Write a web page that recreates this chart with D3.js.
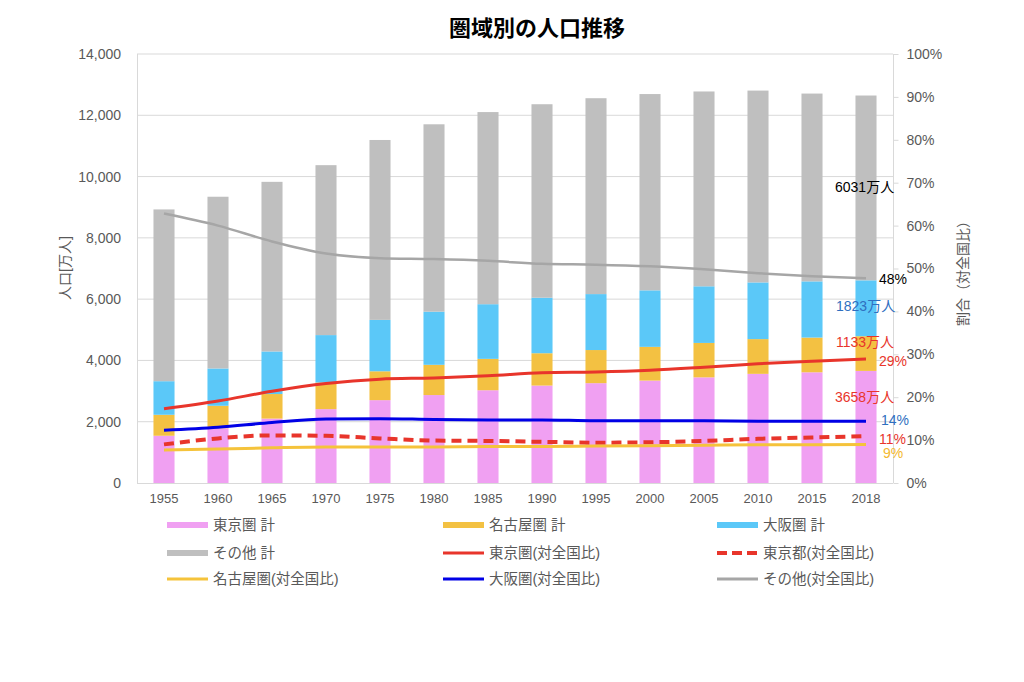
<!DOCTYPE html>
<html><head><meta charset="utf-8">
<script src="https://cdn.jsdelivr.net/npm/d3@7"></script>
<style>
body{margin:0;background:#fff;}
text{font-family:"Liberation Sans","Noto Sans CJK JP",sans-serif;}
</style></head>
<body><svg id="c" width="1024" height="682"></svg>
<script>
const years = ["1955","1960","1965","1970","1975","1980","1985","1990","1995","2000","2005","2010","2015","2018"];
// population (万人)
const tokyoArea  = [1542,1786,2102,2411,2704,2870,3027,3180,3258,3342,3448,3562,3613,3658];
const nagoyaArea = [684,734,801,869,942,987,1024,1055,1081,1101,1123,1134,1133,1133];
const osakaArea  = [1096,1218,1390,1547,1677,1735,1784,1812,1826,1844,1848,1850,1834,1823];
const otherArea  = [5606,5604,5535,5545,5871,6114,6270,6314,6392,6406,6358,6260,6129,6031];
// share of national total (%)
const tokyoAreaPct  = [17.3,19.1,21.4,23.2,24.2,24.5,25.0,25.7,25.9,26.3,27.0,27.8,28.4,28.9];
const tokyoToPct    = [9.0,10.4,11.1,11.0,10.4,9.9,9.8,9.6,9.4,9.5,9.8,10.3,10.6,10.9];
const nagoyaAreaPct = [7.7,7.9,8.2,8.4,8.4,8.4,8.5,8.5,8.6,8.7,8.8,8.9,8.9,9.0];
const osakaAreaPct  = [12.3,13.0,14.1,14.9,15.0,14.8,14.7,14.7,14.5,14.5,14.5,14.4,14.4,14.4];
const otherPct      = [62.8,60.0,56.3,53.5,52.4,52.2,51.8,51.1,50.9,50.5,49.8,48.9,48.2,47.7];
const leftTicks = [0,2000,4000,6000,8000,10000,12000,14000];
const rightTicks = [0,10,20,30,40,50,60,70,80,90,100];

const svg = d3.select("#c");
const L=137, R=893, T=54, B=483;
const x = d3.scaleBand().domain(years).range([L,R]).paddingInner(0.61).paddingOuter(0.305);
const y = d3.scaleLinear().domain([0,14000]).range([B,T]);
const y2 = d3.scaleLinear().domain([0,100]).range([B,T]);
const axisCol="#595959", gridCol="#d9d9d9";

// gridlines
svg.append("g").selectAll("line").data(leftTicks.slice(1)).join("line")
  .attr("x1",L).attr("x2",R).attr("y1",d=>y(d)).attr("y2",d=>y(d))
  .attr("stroke",gridCol).attr("stroke-width",1);

// stacked bars
const seriesKeys=["tokyo","nagoya","osaka","other"];
const colors={tokyo:"#f0a0f2",nagoya:"#f3c142",osaka:"#5bc8f8",other:"#bfbfbf"};
const rows = years.map((yr,i)=>({year:yr,tokyo:tokyoArea[i],nagoya:nagoyaArea[i],osaka:osakaArea[i],other:otherArea[i]}));
const stack = d3.stack().keys(seriesKeys)(rows);
svg.append("g").selectAll("g").data(stack).join("g").attr("fill",d=>colors[d.key])
  .selectAll("rect").data(d=>d).join("rect")
  .attr("x",d=>x(d.data.year)).attr("width",x.bandwidth())
  .attr("y",d=>y(d[1])).attr("height",d=>y(d[0])-y(d[1]));

// axes lines
svg.append("line").attr("x1",L+0.5).attr("x2",L+0.5).attr("y1",T).attr("y2",B).attr("stroke",gridCol);
svg.append("line").attr("x1",R+0.5).attr("x2",R+0.5).attr("y1",T).attr("y2",B).attr("stroke",gridCol);
svg.append("line").attr("x1",L).attr("x2",R).attr("y1",B+0.5).attr("y2",B+0.5).attr("stroke",gridCol);

// left axis
const la = svg.append("g").attr("transform",`translate(${L},0)`)
  .call(d3.axisLeft(y).tickValues(leftTicks).tickFormat(d3.format(",")).tickSize(0).tickPadding(16));
la.select(".domain").remove();
la.selectAll("text").attr("fill",axisCol).style("font-size","14px");
// right axis
const ra = svg.append("g").attr("transform",`translate(${R+0.5},0)`)
  .call(d3.axisRight(y2).tickValues(rightTicks).tickFormat(d=>d+"%").tickSize(5).tickPadding(8));
ra.select(".domain").remove();
ra.selectAll("line").attr("stroke",gridCol);
ra.selectAll("text").attr("fill",axisCol).style("font-size","14px");
// bottom axis
const ba = svg.append("g").attr("transform",`translate(0,${B})`)
  .call(d3.axisBottom(x).tickSize(0).tickPadding(11));
ba.select(".domain").remove();
ba.selectAll("text").attr("fill",axisCol).style("font-size","13px");

// lines
const lineDefs=[
  {data:otherPct,color:"#a6a6a6",w:2.5,dash:null},
  {data:tokyoAreaPct,color:"#e8352b",w:3,dash:null},
  {data:osakaAreaPct,color:"#0000e6",w:3,dash:null},
  {data:tokyoToPct,color:"#e8352b",w:4,dash:"10,6"},
  {data:nagoyaAreaPct,color:"#f5c33b",w:3,dash:null}
];
const lineGen = d3.line().x((d,i)=>x(years[i])+x.bandwidth()/2).y(d=>y2(d)).curve(d3.curveMonotoneX);
lineDefs.forEach(l=>{
  svg.append("path").attr("d",lineGen(l.data)).attr("fill","none")
    .attr("stroke",l.color).attr("stroke-width",l.w).attr("stroke-dasharray",l.dash);
});

// title
svg.append("text").attr("x",537).attr("y",36).attr("text-anchor","middle")
  .style("font-size","22px").style("font-weight","bold").attr("fill","#000").text("圏域別の人口推移");
// axis titles
svg.append("text").attr("transform","translate(70,268) rotate(-90)").attr("text-anchor","middle")
  .style("font-size","14px").attr("fill",axisCol).text("人口[万人]");
svg.append("text").attr("transform","translate(968,270) rotate(-90)").attr("text-anchor","middle")
  .style("font-size","14px").attr("fill",axisCol).text("割合（対全国比）");

// annotations
const ann=[
  {t:"6031万人",x:835,y:192,c:"#000"},
  {t:"48%",x:879,y:284,c:"#000"},
  {t:"1823万人",x:836,y:311,c:"#2f6fc0"},
  {t:"1133万人",x:836,y:347,c:"#e8352b"},
  {t:"29%",x:879,y:366,c:"#e8352b"},
  {t:"3658万人",x:835,y:402,c:"#e8352b"},
  {t:"14%",x:881,y:425,c:"#2f6fc0"},
  {t:"11%",x:879,y:444,c:"#e8352b"},
  {t:"9%",x:883,y:458,c:"#f3b82e"}
];
svg.append("g").selectAll("text").data(ann).join("text")
  .attr("x",d=>d.x).attr("y",d=>d.y).attr("fill",d=>d.c).style("font-size","14px").text(d=>d.t);

// legend
const legend=[
  {t:"東京圏  計",c:"#f0a0f2",type:"bar"},
  {t:"名古屋圏  計",c:"#f3c142",type:"bar"},
  {t:"大阪圏  計",c:"#5bc8f8",type:"bar"},
  {t:"その他  計",c:"#bfbfbf",type:"bar"},
  {t:"東京圏(対全国比)",c:"#e8352b",type:"line"},
  {t:"東京都(対全国比)",c:"#e8352b",type:"dash"},
  {t:"名古屋圏(対全国比)",c:"#f5c33b",type:"line"},
  {t:"大阪圏(対全国比)",c:"#0000e6",type:"line"},
  {t:"その他(対全国比)",c:"#a6a6a6",type:"line"}
];
const colX=[167,443,717], rowY=[525,553,579];
const lg=svg.append("g").selectAll("g").data(legend).join("g")
  .attr("transform",(d,i)=>`translate(${colX[i%3]},${rowY[Math.floor(i/3)]})`);
lg.append("line").attr("x1",0).attr("x2",41).attr("y1",0).attr("y2",0)
  .attr("stroke",d=>d.c)
  .attr("stroke-width",d=>d.type==="bar"?6:(d.type==="dash"?4:3))
  .attr("stroke-dasharray",d=>d.type==="dash"?"10,5":null);
lg.append("text").attr("x",46).attr("y",5).attr("fill",axisCol).style("font-size","14.5px").text(d=>d.t);
</script></body></html>
